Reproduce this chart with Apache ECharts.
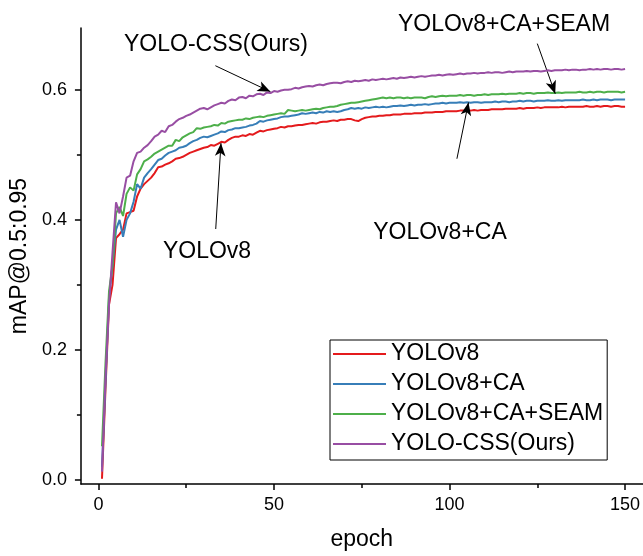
<!DOCTYPE html>
<html>
<head>
<meta charset="utf-8">
<script src="https://cdn.jsdelivr.net/npm/echarts@6/dist/echarts.min.js"></script>
<style>html,body{margin:0;padding:0;background:#fff}#c{width:643px;height:556px}</style>
</head>
<body>
<div id="c"></div>
<script>
const seriesNames = ['YOLOv8', 'YOLOv8+CA', 'YOLOv8+CA+SEAM', 'YOLO-CSS(Ours)'];
const xTicks = [0, 50, 100, 150];
const xMinorTicks = [25, 75, 125];
const yTicks = [0, 0.2, 0.4, 0.6];
const yMinorTicks = [0.1, 0.3, 0.5];

const yolov8 = [
0.002,0.140,0.270,0.300,0.372,0.378,0.385,0.410,0.412,0.414,
0.436,0.448,0.455,0.460,0.465,0.472,0.481,0.482,0.485,0.487,
0.490,0.494,0.495,0.497,0.500,0.503,0.505,0.507,0.509,0.511,
0.512,0.515,0.514,0.517,0.520,0.519,0.523,0.526,0.528,0.528,
0.530,0.529,0.532,0.531,0.534,0.537,0.536,0.538,0.539,0.540,
0.541,0.543,0.542,0.544,0.544,0.545,0.546,0.546,0.547,0.548,
0.549,0.548,0.550,0.551,0.551,0.552,0.553,0.552,0.554,0.554,
0.555,0.555,0.553,0.552,0.555,0.557,0.558,0.559,0.559,0.560,
0.560,0.561,0.561,0.562,0.562,0.562,0.563,0.563,0.563,0.564,
0.564,0.564,0.565,0.565,0.565,0.566,0.566,0.566,0.567,0.567,
0.567,0.567,0.568,0.568,0.568,0.568,0.569,0.568,0.569,0.569,
0.569,0.570,0.570,0.570,0.570,0.571,0.571,0.571,0.571,0.572,
0.571,0.572,0.572,0.572,0.573,0.572,0.573,0.573,0.573,0.573,
0.573,0.574,0.573,0.574,0.574,0.574,0.574,0.574,0.575,0.574,
0.574,0.575,0.574,0.575,0.575,0.574,0.575,0.575,0.574,0.574];

const yolov8CA = [
0.020,0.150,0.280,0.330,0.385,0.400,0.374,0.400,0.410,0.428,
0.455,0.448,0.465,0.472,0.478,0.485,0.492,0.494,0.499,0.503,
0.505,0.507,0.511,0.512,0.514,0.518,0.521,0.523,0.526,0.528,
0.527,0.529,0.531,0.533,0.536,0.535,0.538,0.539,0.541,0.541,
0.542,0.543,0.545,0.546,0.548,0.552,0.551,0.553,0.554,0.555,
0.556,0.558,0.559,0.559,0.560,0.561,0.562,0.564,0.563,0.564,
0.565,0.564,0.566,0.565,0.567,0.566,0.567,0.566,0.567,0.569,
0.570,0.572,0.571,0.572,0.571,0.573,0.572,0.573,0.574,0.573,
0.574,0.573,0.574,0.575,0.575,0.576,0.575,0.576,0.577,0.576,
0.577,0.577,0.578,0.577,0.578,0.579,0.579,0.580,0.579,0.580,
0.580,0.580,0.581,0.580,0.581,0.580,0.581,0.581,0.580,0.581,
0.581,0.581,0.582,0.581,0.582,0.582,0.581,0.582,0.582,0.583,
0.582,0.583,0.583,0.582,0.583,0.583,0.583,0.584,0.583,0.583,
0.584,0.583,0.584,0.584,0.584,0.584,0.584,0.585,0.584,0.584,
0.585,0.584,0.585,0.585,0.585,0.584,0.585,0.585,0.585,0.585];

const yolov8CASEAM = [
0.052,0.180,0.290,0.330,0.410,0.420,0.406,0.440,0.450,0.445,
0.470,0.478,0.490,0.493,0.497,0.502,0.505,0.508,0.511,0.514,
0.514,0.523,0.521,0.527,0.530,0.533,0.535,0.541,0.540,0.542,
0.543,0.544,0.546,0.545,0.549,0.548,0.551,0.552,0.553,0.554,
0.554,0.556,0.555,0.557,0.558,0.559,0.558,0.560,0.561,0.562,
0.563,0.564,0.563,0.569,0.568,0.567,0.568,0.569,0.568,0.569,
0.570,0.571,0.570,0.572,0.573,0.574,0.574,0.575,0.577,0.578,
0.579,0.580,0.580,0.581,0.582,0.583,0.584,0.585,0.586,0.587,
0.588,0.587,0.588,0.587,0.588,0.588,0.587,0.588,0.587,0.588,
0.588,0.588,0.587,0.589,0.590,0.589,0.590,0.591,0.590,0.591,
0.591,0.591,0.592,0.591,0.592,0.592,0.591,0.592,0.592,0.593,
0.592,0.593,0.593,0.593,0.594,0.593,0.594,0.594,0.594,0.595,
0.594,0.595,0.595,0.594,0.595,0.595,0.595,0.596,0.595,0.595,
0.596,0.595,0.596,0.596,0.596,0.596,0.597,0.596,0.596,0.597,
0.596,0.597,0.597,0.596,0.597,0.597,0.597,0.597,0.596,0.597];

const yoloCSS = [
0.013,0.160,0.270,0.350,0.427,0.410,0.436,0.465,0.468,0.490,
0.503,0.505,0.511,0.515,0.521,0.528,0.531,0.537,0.535,0.544,
0.546,0.551,0.555,0.557,0.560,0.562,0.565,0.568,0.571,0.572,
0.570,0.573,0.576,0.578,0.580,0.579,0.583,0.585,0.584,0.588,
0.589,0.587,0.591,0.590,0.593,0.594,0.592,0.596,0.595,0.598,
0.597,0.599,0.600,0.600,0.601,0.603,0.602,0.604,0.605,0.606,
0.605,0.607,0.608,0.607,0.609,0.610,0.611,0.611,0.610,0.612,
0.613,0.612,0.614,0.613,0.614,0.615,0.614,0.616,0.615,0.616,
0.617,0.616,0.617,0.618,0.617,0.619,0.618,0.619,0.620,0.619,
0.620,0.621,0.620,0.621,0.622,0.622,0.623,0.622,0.623,0.624,
0.623,0.624,0.625,0.624,0.625,0.625,0.626,0.625,0.626,0.626,
0.627,0.626,0.627,0.627,0.626,0.627,0.628,0.627,0.628,0.628,
0.628,0.629,0.628,0.629,0.629,0.628,0.629,0.630,0.629,0.630,
0.630,0.630,0.631,0.630,0.631,0.631,0.630,0.631,0.631,0.632,
0.631,0.632,0.631,0.632,0.632,0.631,0.632,0.632,0.631,0.632];

// annotation arrows: [from (epoch, value), to (epoch, value)]
const arrowCSS  = [[33.3, 0.637], [49.0, 0.597]];
const arrowSEAM = [[125.0, 0.671], [130.1, 0.594]];
const arrowCA   = [[102.1, 0.494], [105.4, 0.5805]];
const arrowV8   = [[33.4, 0.386], [34.9, 0.518]];

const colors = ['#e41a1c', '#377eb8', '#4daf4a', '#984ea3'];
const allValues = [yolov8, yolov8CA, yolov8CASEAM, yoloCSS];
const FONT = '"Liberation Sans", Arial, Helvetica, sans-serif';

const chart = echarts.init(document.getElementById('c'), null, {renderer: 'canvas'});

const series = seriesNames.map((name, i) => ({
  name: name,
  type: 'line',
  symbol: 'none',
  data: allValues[i].map((v, k) => [k + 1, v]),
  lineStyle: {color: colors[i], width: 2},
  itemStyle: {color: colors[i]},
  animation: false,
  z: 2 + i
}));

const arrows = [arrowCSS, arrowSEAM, arrowCA, arrowV8];
series[3].markLine = {
  silent: true,
  animation: false,
  symbol: ['none', 'arrow'],
  symbolSize: [8, 13],
  label: {show: false},
  lineStyle: {color: '#000', width: 1, type: 'solid'},
  emphasis: {disabled: true},
  data: arrows.map(a => [{coord: a[0]}, {coord: a[1]}])
};

const tickStyle = {color: '#000', width: 1.5};
const hiddenLine = {show: true, onZero: false, lineStyle: {color: '#000', opacity: 0, width: 1}};

chart.setOption({
  animation: false,
  backgroundColor: '#fff',
  grid: {left: 78, right: 0, top: 28, bottom: 72, containLabel: false},
  xAxis: [{
    type: 'value', min: -5, max: 155,
    name: 'epoch', nameLocation: 'middle', nameGap: 44,
    nameTextStyle: {fontFamily: FONT, fontSize: 23, color: '#000'},
    axisLine: {show: true, onZero: false, lineStyle: {color: '#000', width: 1.5}},
    axisTick: {show: true, customValues: xTicks, length: 6, lineStyle: tickStyle},
    axisLabel: {customValues: xTicks, fontFamily: FONT, fontSize: 18, color: '#000', margin: 12},
    splitLine: {show: false}
  }, {
    type: 'value', min: -5, max: 155, position: 'bottom',
    axisLine: hiddenLine,
    axisTick: {show: true, customValues: xMinorTicks, length: 4, lineStyle: tickStyle},
    axisLabel: {show: false},
    splitLine: {show: false}
  }],
  yAxis: [{
    type: 'value', min: -0.006, max: 0.695,
    name: 'mAP@0.5:0.95', nameLocation: 'middle', nameGap: 48,
    nameTextStyle: {fontFamily: FONT, fontSize: 23, color: '#000'},
    axisLine: {show: true, onZero: false, lineStyle: {color: '#000', width: 1.5}},
    axisTick: {show: true, customValues: yTicks, length: 6, lineStyle: tickStyle},
    axisLabel: {customValues: yTicks, fontFamily: FONT, fontSize: 18, color: '#000', margin: 14,
      formatter: v => v.toFixed(1)},
    splitLine: {show: false}
  }, {
    type: 'value', min: -0.006, max: 0.695, position: 'left',
    axisLine: hiddenLine,
    axisTick: {show: true, customValues: yMinorTicks, length: 4, lineStyle: tickStyle},
    axisLabel: {show: false},
    splitLine: {show: false}
  }],
  legend: {
    orient: 'vertical',
    left: 330, top: 340,
    data: seriesNames,
    icon: 'rect',
    borderColor: '#000', borderWidth: 1,
    padding: [2, 4, 4, 3],
    itemWidth: 53, itemHeight: 2, itemGap: 6,
    textStyle: {fontFamily: FONT, fontSize: 23, color: '#000', lineHeight: 24},
    selectedMode: false
  },
  graphic: [
    {type: 'text', x: 216, y: 45, style: {text: 'YOLO-CSS(Ours)', font: '23px ' + FONT, fill: '#000', textAlign: 'center', textVerticalAlign: 'middle'}},
    {type: 'text', x: 504, y: 25, style: {text: 'YOLOv8+CA+SEAM', font: '23px ' + FONT, fill: '#000', textAlign: 'center', textVerticalAlign: 'middle'}},
    {type: 'text', x: 440, y: 233, style: {text: 'YOLOv8+CA', font: '23px ' + FONT, fill: '#000', textAlign: 'center', textVerticalAlign: 'middle'}},
    {type: 'text', x: 207, y: 252, style: {text: 'YOLOv8', font: '23px ' + FONT, fill: '#000', textAlign: 'center', textVerticalAlign: 'middle'}}
  ],
  series: series
});
</script>
</body>
</html>
